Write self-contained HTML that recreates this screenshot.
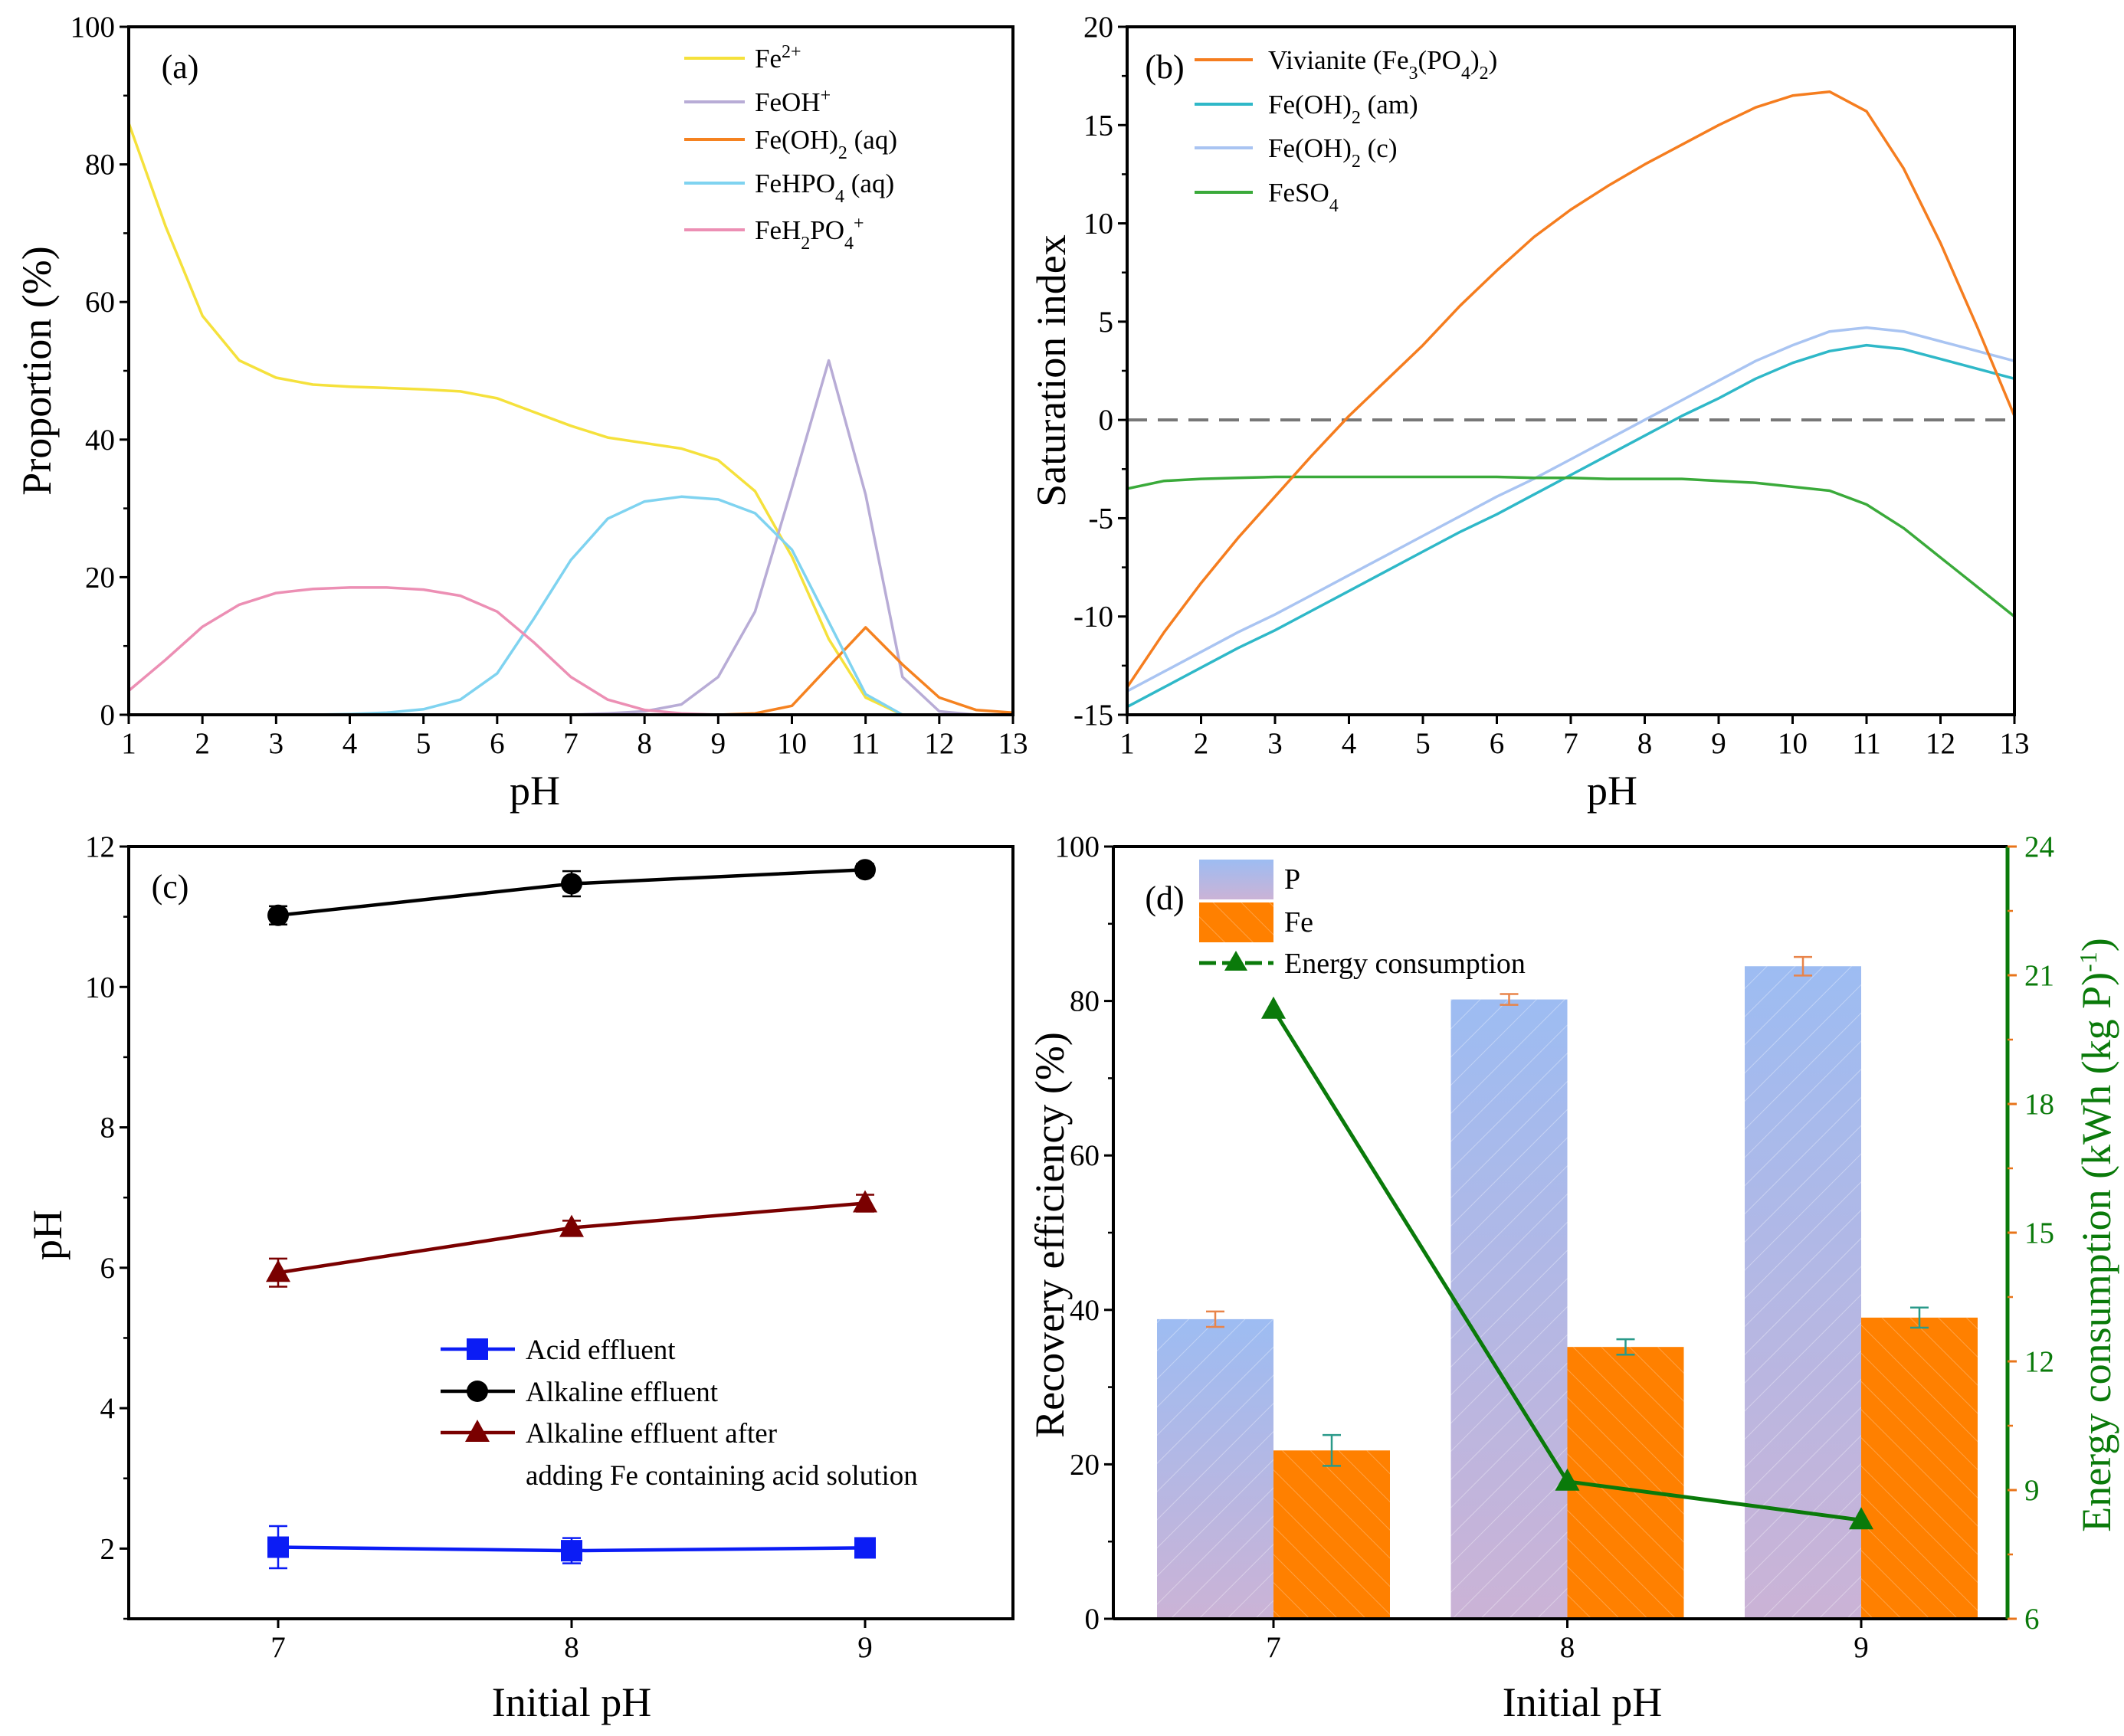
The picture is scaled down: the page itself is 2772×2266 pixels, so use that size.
<!DOCTYPE html>
<html><head><meta charset="utf-8">
<style>
html,body{margin:0;padding:0;background:#fff;}
svg{display:block;font-family:"Liberation Serif",serif;}
</style></head>
<body>
<svg id="fig" width="2772" height="2266" viewBox="0 0 2772 2266" xmlns="http://www.w3.org/2000/svg">
<defs>
<linearGradient id="pgrad" x1="0" y1="0" x2="0" y2="1">
<stop offset="0" stop-color="#9dbcf2"/><stop offset="1" stop-color="#cbb3d6"/>
</linearGradient>
<pattern id="hatchP" width="26" height="26" patternUnits="userSpaceOnUse" patternTransform="rotate(45)">
<line x1="0" y1="0" x2="0" y2="26" stroke="#ffffff" stroke-opacity="0.35" stroke-width="2"/>
</pattern>
<pattern id="hatchF" width="26" height="26" patternUnits="userSpaceOnUse" patternTransform="rotate(-45)">
<line x1="0" y1="0" x2="0" y2="26" stroke="#ffb060" stroke-opacity="0.7" stroke-width="2"/>
</pattern>
</defs>
<g id="root"></g>
</svg>
<script>
// ===== Panel (a) data =====
const phA = [1,1.5,2,2.5,3,3.5,4,4.5,5,5.5,6,6.5,7,7.5,8,8.5,9,9.5,10,10.5,11,11.5,12,12.5,13];
const fe2 = [86,71,58,51.5,49,48,47.7,47.5,47.3,47,46,44,42,40.3,39.5,38.7,37,32.5,23,11,2.5,0,0,0,0];
const feoh = [0,0,0,0,0,0,0,0,0,0,0,0,0,0.2,0.5,1.5,5.5,15,33,51.5,32,5.5,0.5,0,0];
const feoh2aq = [0,0,0,0,0,0,0,0,0,0,0,0,0,0,0,0,0,0.2,1.3,7,12.7,7.3,2.5,0.7,0.3];
const fehpo4 = [0,0,0,0,0,0,0.1,0.3,0.8,2.2,6,14,22.5,28.5,31,31.7,31.3,29.3,24,13.5,3,0,0,0,0];
const feh2po4 = [3.5,8,12.8,16,17.7,18.3,18.5,18.5,18.2,17.3,15,10.5,5.5,2.2,0.7,0.2,0,0,0,0,0,0,0,0,0];
const ticksAx = [1,2,3,4,5,6,7,8,9,10,11,12,13];
const ticksAy = [0,20,40,60,80,100];
// ===== Panel (b) data =====
const phB = [1,1.5,2,2.5,3,3.5,4,4.5,5,5.5,6,6.5,7,7.5,8,8.5,9,9.5,10,10.5,11,11.5,12,12.5,13];
const vivianite = [-13.6,-10.8,-8.3,-6,-3.9,-1.8,0.2,2,3.8,5.8,7.6,9.3,10.7,11.9,13,14,15,15.9,16.5,16.7,15.7,12.8,9,4.7,0.2];
const feoh2am = [-14.6,-13.6,-12.6,-11.6,-10.7,-9.7,-8.7,-7.7,-6.7,-5.7,-4.8,-3.8,-2.8,-1.8,-0.8,0.2,1.1,2.1,2.9,3.5,3.8,3.6,3.1,2.6,2.1];
const feoh2c = [-13.8,-12.8,-11.8,-10.8,-9.9,-8.9,-7.9,-6.9,-5.9,-4.9,-3.9,-3,-2,-1,0,1,2,3,3.8,4.5,4.7,4.5,4,3.5,3];
const feso4 = [-3.5,-3.1,-3,-2.95,-2.9,-2.9,-2.9,-2.9,-2.9,-2.9,-2.9,-2.95,-2.95,-3,-3,-3,-3.1,-3.2,-3.4,-3.6,-4.3,-5.5,-7,-8.5,-10];
const ticksBy = [-15,-10,-5,0,5,10,15,20];
// ===== Panel (c) data =====
const initPH = [7,8,9];
const acidEff = [2.02,1.97,2.01];
const acidErr = [0.3,0.18,0.05];
const alkEff = [11.02,11.47,11.67];
const alkErr = [0.13,0.18,0.08];
const alkFe = [5.93,6.57,6.92];
const alkFeErr = [0.2,0.1,0.12];
const ticksCy = [2,4,6,8,10,12];
// ===== Panel (d) data =====
const recP = [38.8,80.2,84.5];
const recPErr = [1,0.7,1.2];
const recFe = [21.8,35.2,39];
const recFeErr = [2,1,1.3];
const energy = [20.2,9.2,8.3];
const ticksDy = [0,20,40,60,80,100];
const ticksDy2 = [6,9,12,15,18,21,24];

const NS='http://www.w3.org/2000/svg';
const root=document.getElementById('root');
const TF=39, AF=54, LF=35;
function mk(tag,attrs,parent){const e=document.createElementNS(NS,tag);for(const k in attrs)e.setAttribute(k,attrs[k]);(parent||root).appendChild(e);return e;}
function txt(x,y,s,size,anchor,parent,fill){const t=mk('text',{x:x,y:y,'font-size':size,'text-anchor':anchor||'middle',fill:fill||'#000'},parent);t.innerHTML=s;return t;}
function lin(d0,d1,r0,r1){return v=>r0+(v-d0)*(r1-r0)/(d1-d0);}
function frame(g,l,t,r,b){mk('rect',{x:l,y:t,width:r-l,height:b-t,fill:'none',stroke:'#000','stroke-width':4},g);}
function poly(g,xs,ys,X,Y,color,w,dash){let d='';xs.forEach((v,i)=>{d+=(i?'L':'M')+X(v).toFixed(1)+' '+Y(ys[i]).toFixed(1);});const p=mk('path',{d:d,fill:'none',stroke:color,'stroke-width':w||3.5,'stroke-linejoin':'round'},g);if(dash)p.setAttribute('stroke-dasharray',dash);return p;}
function yTicks(g,ticks,Y,l,minorStep,lo,hi,labelX){ticks.forEach(v=>{mk('line',{x1:l,x2:l-12,y1:Y(v),y2:Y(v),stroke:'#000','stroke-width':3},g);txt(labelX,Y(v)+13,v,TF,'end',g);});if(minorStep){for(let v=lo;v<=hi+1e-9;v+=minorStep){mk('line',{x1:l,x2:l-7,y1:Y(v),y2:Y(v),stroke:'#000','stroke-width':2.5},g);}}}
function xTicks(g,ticks,X,b){ticks.forEach(v=>{mk('line',{x1:X(v),x2:X(v),y1:b,y2:b+12,stroke:'#000','stroke-width':3},g);txt(X(v),b+50,v,TF,'middle',g);});}
const SUB=s=>'<tspan baseline-shift="sub" font-size="24">'+s+'</tspan>';
const SUP=s=>'<tspan baseline-shift="super" font-size="24">'+s+'</tspan>';

// ===== Panel A =====
(function(){
const g=mk('g',{});  
const L=168,R=1322,T=35,B=933;
const X=lin(1,13,L,R),Y=lin(0,100,B,T);
const series=[[fe2,'#f5e13c','fe2-line'],[feoh,'#b8acd6','feoh-line'],[feoh2aq,'#f58220','feoh2-aq-line'],[fehpo4,'#7fd3f0','fehpo4-line'],[feh2po4,'#ec8fb4','feh2po4-line']];
series.forEach(s=>{const p=poly(g,phA,s[0],X,Y,s[1],3.5);});
frame(g,L,T,R,B);
yTicks(g,ticksAy,Y,L,10,0,100,L-18);
xTicks(g,ticksAx,X,B);
txt(698,1050,'pH',AF,'middle',g);
const yt=txt(0,0,'Proportion (%)',AF,'middle',g); yt.setAttribute('transform','translate(66,484) rotate(-90)');  
txt(235,102,'(a)',44,'middle',g);
const labels=['Fe'+SUP('2+'),'FeOH'+SUP('+'),'Fe(OH)'+SUB('2')+' (aq)','FeHPO'+SUB('4')+' (aq)','FeH'+SUB('2')+'PO'+SUB('4')+SUP('+')];
const rows=[76,133,182,239,300];
series.forEach((s,i)=>{const le=mk('g',{},g);mk('line',{x1:893,x2:972,y1:rows[i],y2:rows[i],stroke:s[1],'stroke-width':4},le);txt(985,rows[i]+12,labels[i],LF,'start',le);});
})();

// ===== Panel B =====
(function(){
const g=mk('g',{});  
const L=1471,R=2629,T=35,B=933;
const X=lin(1,13,L,R),Y=lin(-15,20,B,T);
const dl=mk('line',{x1:L,x2:R,y1:Y(0),y2:Y(0),stroke:'#777','stroke-width':4,'stroke-dasharray':'26 14'},g);
 
const series=[[vivianite,'#f57d1f','vivianite-line'],[feoh2am,'#2fb8c8','feoh2-am-line'],[feoh2c,'#a9c4f2','feoh2-c-line'],[feso4,'#3aaa3a','feso4-line']];
[series[2],series[1],series[3],series[0]].forEach(s=>{const p=poly(g,phB,s[0],X,Y,s[1],3.5);});
frame(g,L,T,R,B);
yTicks(g,ticksBy,Y,L,2.5,-15,20,L-18);
xTicks(g,ticksAx,X,B);
txt(2104,1050,'pH',AF,'middle',g);
const yt=txt(0,0,'Saturation index',AF,'middle',g); yt.setAttribute('transform','translate(1390,484) rotate(-90)');  
txt(1520,102,'(b)',44,'middle',g);
const labels=['Vivianite (Fe'+SUB('3')+'(PO'+SUB('4')+')'+SUB('2')+')','Fe(OH)'+SUB('2')+' (am)','Fe(OH)'+SUB('2')+' (c)','FeSO'+SUB('4')];
const rows=[78,136,193,251];
series.forEach((s,i)=>{const le=mk('g',{},g);mk('line',{x1:1559,x2:1635,y1:rows[i],y2:rows[i],stroke:s[1],'stroke-width':4},le);txt(1655,rows[i]+12,labels[i],LF,'start',le);});
})();

// ===== Panel C =====
(function(){
const g=mk('g',{});  
const L=168,R=1322,T=1105,B=2113;
const X=lin(7,9,363,1129),Y=lin(1,12,B,T);
function marker(shape,x,y,color,par){if(shape==='sq')mk('rect',{x:x-14,y:y-14,width:28,height:28,fill:color},par);else if(shape==='ci')mk('circle',{cx:x,cy:y,r:14,fill:color},par);else mk('path',{d:`M${x} ${y-17}L${x+16} ${y+12}L${x-16} ${y+12}Z`,fill:color},par);}
const series=[[acidEff,acidErr,'#0b1cf5','sq','acid-effluent-series'],[alkEff,alkErr,'#000','ci','alkaline-effluent-series'],[alkFe,alkFeErr,'#7a0000','tr','alkaline-fe-added-series']];
series.forEach(s=>{const sg=mk('g',{},g);
poly(sg,initPH,s[0],X,Y,s[2],4.5);
initPH.forEach((p,i)=>{const x=X(p),y1=Y(s[0][i]+s[1][i]),y2=Y(s[0][i]-s[1][i]);mk('path',{d:`M${x-12} ${y1}H${x+12}M${x} ${y1}V${y2}M${x-12} ${y2}H${x+12}`,stroke:s[2],'stroke-width':2.5,fill:'none'},sg);marker(s[3],x,Y(s[0][i]),s[2],sg);});});
frame(g,L,T,R,B);
yTicks(g,ticksCy,Y,L,1,1,12,L-18);
xTicks(g,initPH,X,B);
txt(746,2240,'Initial pH',AF,'middle',g);
const yt=txt(0,0,'pH',AF,'middle',g); yt.setAttribute('transform','translate(80,1612) rotate(-90)');  
txt(222,1172,'(c)',44,'middle',g);
const rows=[1761,1816,1870];const lab=['Acid effluent','Alkaline effluent','Alkaline effluent after'];
series.forEach((s,i)=>{const le=mk('g',{},g);mk('line',{x1:575,x2:672,y1:rows[i],y2:rows[i],stroke:s[2],'stroke-width':4.5},le);marker(s[3],623,rows[i],s[2],le);txt(686,rows[i]+13,lab[i],37,'start',le);});
txt(686,1938,'adding Fe containing acid solution',37,'start',g);
})();

// ===== Panel D =====
(function(){
const g=mk('g',{});  
const L=1453,R=2620,T=1105,B=2113;
const X=lin(7,9,1662,2429),Y=lin(0,100,B,T),Y2=lin(6,24,B,T);
const bw=152;
initPH.forEach((p,i)=>{const x=X(p);
const bp=mk('g',{},g);
mk('rect',{x:x-bw,y:Y(recP[i]),width:bw,height:B-Y(recP[i]),fill:'url(#pgrad)'},bp);
mk('rect',{x:x-bw,y:Y(recP[i]),width:bw,height:B-Y(recP[i]),fill:'url(#hatchP)'},bp);
const bf=mk('g',{},g);
mk('rect',{x:x,y:Y(recFe[i]),width:bw,height:B-Y(recFe[i]),fill:'#ff8000'},bf);
mk('rect',{x:x,y:Y(recFe[i]),width:bw,height:B-Y(recFe[i]),fill:'url(#hatchF)'},bf);
const ex=x-bw/2,a=Y(recP[i]+recPErr[i]),b=Y(recP[i]-recPErr[i]);
mk('path',{d:`M${ex-12} ${a}H${ex+12}M${ex} ${a}V${b}M${ex-12} ${b}H${ex+12}`,stroke:'#e8844a','stroke-width':2.5,fill:'none'},bp);
const fx=x+bw/2,c=Y(recFe[i]+recFeErr[i]),d=Y(recFe[i]-recFeErr[i]);
mk('path',{d:`M${fx-12} ${c}H${fx+12}M${fx} ${c}V${d}M${fx-12} ${d}H${fx+12}`,stroke:'#2a9a8a','stroke-width':2.5,fill:'none'},bf);
});
const eg=mk('g',{},g);
poly(eg,initPH,energy,X,Y2,'#0a7a0a',5);
initPH.forEach((p,i)=>{const x=X(p),y=Y2(energy[i]);mk('path',{d:`M${x} ${y-17}L${x+16} ${y+12}L${x-16} ${y+12}Z`,fill:'#0a7a0a'},eg);});
mk('line',{x1:L,x2:R,y1:T,y2:T,stroke:'#000','stroke-width':4},g);
mk('line',{x1:L,x2:R,y1:B,y2:B,stroke:'#000','stroke-width':4},g);
mk('line',{x1:L,x2:L,y1:T,y2:B,stroke:'#000','stroke-width':4},g);
mk('line',{x1:R,x2:R,y1:T,y2:B,stroke:'#0a7a0a','stroke-width':5},g);
yTicks(g,ticksDy,Y,L,10,0,100,L-18);
xTicks(g,initPH,X,B);
ticksDy2.forEach(v=>{mk('line',{x1:R,x2:R+12,y1:Y2(v),y2:Y2(v),stroke:'#e8741a','stroke-width':3},g);txt(R+22,Y2(v)+13,v,TF,'start',g,'#0a7a0a');});
for(let v=7.5;v<24;v+=3){mk('line',{x1:R,x2:R+7,y1:Y2(v),y2:Y2(v),stroke:'#e8741a','stroke-width':2.5},g);}
txt(2065,2240,'Initial pH',AF,'middle',g);
const yt=txt(0,0,'Recovery efficiency (%)',AF,'middle',g); yt.setAttribute('transform','translate(1388,1612) rotate(-90)');  
const yt2=txt(0,0,'Energy consumption (kWh (kg P)<tspan baseline-shift="super" font-size="32">-1</tspan>)',AF,'middle',g,'#0a7a0a'); yt2.setAttribute('transform','translate(2754,1612) rotate(-90)');  
txt(1520,1187,'(d)',44,'middle',g);
const l1=mk('g',{},g);
mk('rect',{x:1565,y:1122,width:97,height:52,fill:'url(#pgrad)'},l1);txt(1676,1160,'P',38,'start',l1);
const l2=mk('g',{},g);
mk('rect',{x:1565,y:1178,width:97,height:52,fill:'#ff8000'},l2);mk('rect',{x:1565,y:1178,width:97,height:52,fill:'url(#hatchF)'},l2);txt(1676,1216,'Fe',38,'start',l2);
const l3=mk('g',{},g);
mk('line',{x1:1565,x2:1662,y1:1257,y2:1257,stroke:'#0a7a0a','stroke-width':5,'stroke-dasharray':'22 8'},l3);
mk('path',{d:'M1613 1241L1628 1267L1598 1267Z',fill:'#0a7a0a'},l3);txt(1676,1270,'Energy consumption',38,'start',l3);
})();
</script>
</body></html>
